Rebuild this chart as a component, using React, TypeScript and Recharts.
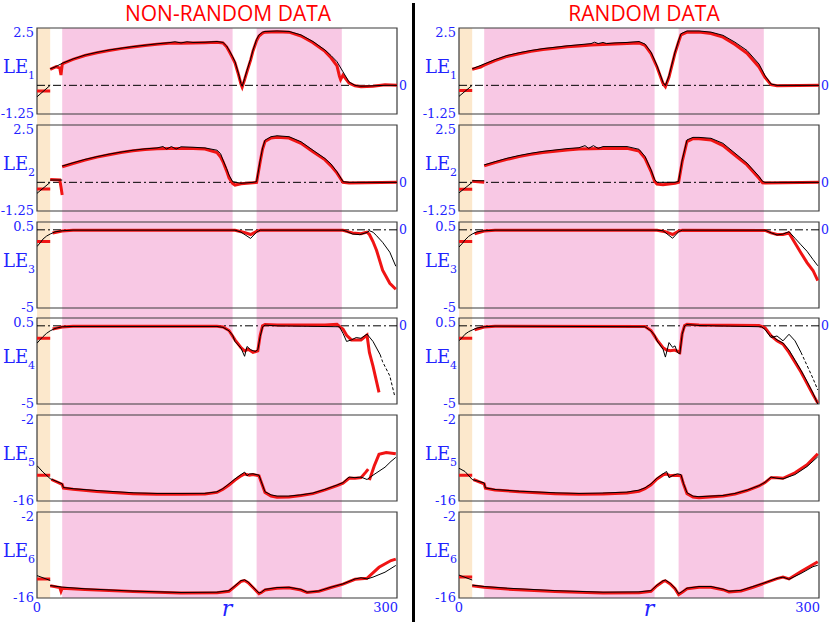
import React from "react";
import { LineChart, Line, XAxis, YAxis, ReferenceArea, ReferenceLine } from "recharts";

type Pt = [number, number | null];

// shaded r ranges (same in both columns)
const orangeBand: [number, number] = [0, 11];
const pinkBands: [number, number][] = [
  [21, 163],
  [183, 254],
];

const xTicks = [0, 300];
const domainLE12: [number, number] = [-1.25, 2.5];
const domainLE34: [number, number] = [-5, 0.5];
const domainLE56: [number, number] = [-16, -2];

// ---------- NON-RANDOM DATA (left) ----------
const leftLE1Black: Pt[] = [
  [0, -0.5], [11, 0], [11, null], [11, 0.72], [15, 0.8], [21, 0.96], [30, 1.15], [40, 1.32], [50, 1.44],
  [60, 1.54], [70, 1.62], [80, 1.69], [90, 1.75], [100, 1.81], [110, 1.86], [115, 1.9], [120, 1.85],
  [125, 1.9], [130, 1.87], [140, 1.88], [150, 1.91], [155, 1.87], [158, 1.72], [160, 1.54], [163, 1.25],
  [165, 1.03], [168, 0.5], [170, 0.07], [171, -0.04], [173, 0.3], [175, 0.66], [178, 1.15], [180, 1.54],
  [183, 2.0], [185, 2.2], [188, 2.32], [190, 2.35], [200, 2.37], [210, 2.35], [220, 2.2], [230, 1.91],
  [240, 1.54], [245, 1.3], [250, 1.03], [255, 0.59], [260, 0.15], [265, 0], [270, -0.04], [280, -0.02],
  [290, 0], [300, 0],
];
const leftLE1Red: Pt[] = [
  [0, -0.25], [11, -0.25], [11, null], [11, 0.7], [16, 0.82], [19, 0.75], [20, 0.45], [21, 0.9],
  [22, 0.96], [30, 1.13], [40, 1.3], [50, 1.42], [60, 1.52], [70, 1.6], [80, 1.67], [90, 1.74],
  [100, 1.79], [110, 1.83], [120, 1.84], [130, 1.85], [140, 1.86], [150, 1.88], [155, 1.85], [158, 1.68],
  [160, 1.5], [163, 1.2], [165, 0.98], [168, 0.45], [170, 0.05], [171, -0.08], [173, 0.25], [175, 0.6],
  [178, 1.1], [180, 1.5], [183, 1.95], [185, 2.15], [188, 2.28], [190, 2.32], [200, 2.34], [210, 2.32],
  [220, 2.15], [230, 1.86], [240, 1.48], [245, 1.2], [250, 0.85], [252, 0.4], [253, 0.25], [255, 0.45],
  [260, 0.1], [265, -0.02], [270, -0.06], [280, -0.04], [290, 0.02], [300, 0],
];
const leftLE2Black: Pt[] = [
  [0, -0.48], [11, 0], [11, null], [11, 0.1], [21, 0.1], [21, null], [21, 0.71], [30, 0.85], [40, 1.0],
  [50, 1.12], [60, 1.23], [70, 1.32], [80, 1.4], [90, 1.46], [100, 1.5], [105, 1.56], [108, 1.45],
  [112, 1.56], [116, 1.45], [120, 1.55], [130, 1.53], [140, 1.5], [150, 1.4], [153, 1.25], [155, 0.97],
  [158, 0.6], [160, 0.32], [163, 0.03], [170, -0.04], [180, 0], [183, 0.03], [186, 0.97], [188, 1.5],
  [190, 1.84], [195, 1.99], [200, 2.03], [210, 1.99], [220, 1.77], [230, 1.4], [240, 1.04], [245, 0.8],
  [250, 0.46], [255, 0.03], [260, 0], [300, 0],
];
const leftLE2Red: Pt[] = [
  [0, -0.29], [11, -0.29], [11, null], [11, 0.12], [19, 0.1], [20, -0.2], [21, -0.55], [21, null],
  [21, 0.68], [30, 0.82], [40, 0.97], [50, 1.1], [60, 1.2], [70, 1.3], [80, 1.38], [90, 1.43],
  [100, 1.46], [110, 1.48], [120, 1.48], [130, 1.47], [140, 1.45], [150, 1.3], [153, 1.1], [155, 0.9],
  [158, 0.5], [160, 0.2], [163, -0.05], [165, -0.12], [170, -0.06], [180, -0.02], [183, 0], [186, 0.9],
  [188, 1.45], [190, 1.78], [195, 1.93], [200, 1.97], [210, 1.93], [220, 1.7], [230, 1.33], [240, 0.98],
  [245, 0.72], [250, 0.4], [255, 0], [260, -0.03], [300, 0],
];
const leftLE3Black: Pt[] = [
  [0, -1.07], [3, -0.8], [5, -0.59], [8, -0.4], [11, -0.27], [15, -0.13], [21, -0.06], [30, -0.02],
  [165, -0.02], [170, -0.15], [178, -0.55], [183, -0.15], [186, -0.02], [255, -0.02], [258, -0.1],
  [263, -0.27], [269, -0.31], [275, -0.17], [277, -0.06], [280, -0.15], [283, -0.38], [288, -0.8],
  [294, -1.43], [299, -2.33],
];
const leftLE3Red: Pt[] = [
  [0, -0.74], [11, -0.74], [11, null], [13, -0.2], [18, -0.12], [21, -0.08], [30, -0.03], [165, -0.03],
  [172, -0.15], [178, -0.3], [183, -0.1], [186, -0.03], [255, -0.03], [258, -0.1], [263, -0.2],
  [270, -0.25], [275, -0.15], [277, -0.3], [280, -0.75], [283, -1.32], [288, -2.58], [294, -3.42],
  [299, -3.8],
];
const leftLE4Black: Pt[] = [
  [0, -1.11], [3, -0.85], [5, -0.69], [8, -0.48], [11, -0.32], [15, -0.17], [21, -0.06], [30, -0.04],
  [150, -0.04], [155, -0.1], [160, -0.32], [163, -0.6], [165, -1.0], [170, -1.43], [173, -1.95],
  [175, -1.32], [178, -1.53], [182, -1.64], [184, -1.53], [186, -0.69], [188, -0.06], [190, 0.04],
  [200, 0], [252, -0.06], [255, -0.48], [258, -1.0], [262, -0.9], [266, -0.75], [270, -0.8],
  [275, -0.53], [280, -1.0], [286, -1.85],
];
const leftLE4Dashed: Pt[] = [[286, -1.85], [288, -2.3], [294, -3.2], [298, -4.47]];
const leftLE4Red: Pt[] = [
  [0, -0.8], [11, -0.8], [11, null], [13, -0.2], [21, -0.08], [30, -0.03], [150, -0.03], [155, -0.08],
  [160, -0.3], [165, -0.9], [170, -1.4], [173, -1.6], [176, -1.5], [180, -1.7], [184, -1.6], [186, -0.6],
  [188, 0], [190, 0.08], [200, 0.05], [240, 0.05], [250, 0.1], [253, -0.1], [255, -0.2], [258, -0.6],
  [262, -0.9], [270, -0.9], [275, -0.59], [277, -1.7], [280, -2.58], [285, -4.26],
];
const leftLE5Black: Pt[] = [
  [0, -10.24], [5, -11.3], [11, -12.37], [21, -13.2], [22, -13.8], [30, -14.0], [50, -14.3], [80, -14.66],
  [100, -14.77], [120, -14.77], [140, -14.75], [150, -14.5], [155, -13.97], [160, -13.2], [165, -12.4],
  [170, -11.7], [173, -11.3], [175, -11.9], [177, -11.6], [180, -11.57], [185, -11.8], [187, -12.9],
  [190, -14.5], [195, -15.0], [200, -15.2], [210, -15.2], [220, -15.0], [230, -14.7], [240, -14.1],
  [250, -13.4], [255, -13.0], [260, -12.1], [265, -12.2], [270, -12.1], [275, -12.5], [280, -11.8],
  [290, -10.5], [295, -9.55], [299, -8.9],
];
const leftLE5Red: Pt[] = [
  [0, -11.8], [11, -11.8], [11, null], [12, -12.5], [21, -13.3], [22, -13.9], [30, -14.1], [50, -14.45],
  [80, -14.8], [100, -14.9], [120, -14.9], [140, -14.85], [150, -14.6], [155, -14.1], [160, -13.4],
  [165, -12.6], [170, -11.9], [173, -11.6], [177, -11.8], [180, -11.7], [185, -11.9], [187, -13.0],
  [190, -14.6], [195, -15.2], [200, -15.4], [210, -15.35], [220, -15.1], [230, -14.8], [240, -14.2],
  [250, -13.5], [255, -13.1], [260, -12.3], [265, -12.3], [270, -12.2], [274, -11.3], [276, -10.8],
  [276, null], [277, -12.6], [281, -10.3], [285, -8.4], [291, -8.1], [299, -8.3],
];
const leftLE6Black: Pt[] = [
  [0, -12.35], [11, -13.15], [11, null], [11, -13.97], [21, -14.23], [40, -14.5], [80, -14.87],
  [120, -15.1], [150, -15.05], [160, -14.8], [165, -14.0], [170, -13.16], [173, -13.05], [176, -13.4],
  [180, -14.23], [185, -15.2], [187, -15.05], [190, -14.6], [200, -14.3], [210, -14.25], [220, -14.6],
  [225, -15.05], [235, -14.85], [245, -14.23], [255, -13.7], [265, -12.9], [270, -12.7], [275, -12.9],
  [280, -12.6], [290, -11.8], [299, -10.7],
];
const leftLE6Red: Pt[] = [
  [0, -12.9], [11, -12.9], [11, null], [11, -14.0], [19, -14.3], [20, -14.9], [21, -14.4], [40, -14.6],
  [80, -14.95], [120, -15.2], [150, -15.15], [160, -14.9], [165, -14.1], [170, -13.3], [173, -13.15],
  [176, -13.5], [180, -14.3], [185, -15.3], [187, -15.1], [190, -14.7], [200, -14.4], [210, -14.35],
  [220, -14.7], [225, -15.1], [235, -14.9], [245, -14.3], [255, -13.75], [265, -12.95], [275, -12.8],
  [285, -11.0], [295, -9.9], [299, -9.67],
];

// ---------- RANDOM DATA (right) ----------
const rightLE1Black: Pt[] = [
  [0, -0.48], [11, 0], [11, null], [11, 0.72], [21, 0.93], [30, 1.12], [40, 1.3], [50, 1.42], [60, 1.52],
  [70, 1.6], [80, 1.66], [90, 1.72], [100, 1.77], [110, 1.82], [113, 1.88], [116, 1.82], [120, 1.87],
  [123, 1.82], [130, 1.85], [140, 1.87], [150, 1.91], [155, 1.8], [160, 1.45], [165, 0.86], [170, 0.13],
  [172, -0.01], [175, 0.42], [180, 1.45], [183, 1.95], [185, 2.25], [190, 2.37], [200, 2.37], [210, 2.32],
  [220, 2.18], [230, 1.88], [240, 1.52], [250, 0.93], [255, 0.42], [260, 0.06], [265, 0], [300, 0],
];
const rightLE1Red: Pt[] = [
  [0, -0.23], [11, -0.23], [11, null], [11, 0.7], [18, 0.8], [21, 0.88], [30, 1.08], [40, 1.26],
  [50, 1.38], [60, 1.48], [70, 1.56], [80, 1.62], [90, 1.68], [100, 1.72], [110, 1.76], [120, 1.78],
  [130, 1.8], [140, 1.82], [150, 1.85], [155, 1.74], [160, 1.38], [165, 0.8], [170, 0.08], [172, -0.06],
  [175, 0.36], [180, 1.4], [183, 1.9], [185, 2.2], [190, 2.32], [200, 2.32], [210, 2.26], [220, 2.1],
  [230, 1.78], [240, 1.4], [250, 0.8], [255, 0.35], [260, 0.03], [265, -0.02], [300, 0],
];
const rightLE2Black: Pt[] = [
  [0, -0.46], [11, 0], [11, null], [11, 0.07], [21, 0.07], [21, null], [21, 0.76], [30, 0.9], [40, 1.05],
  [50, 1.17], [60, 1.27], [70, 1.35], [80, 1.41], [90, 1.47], [100, 1.51], [105, 1.6], [108, 1.48],
  [112, 1.6], [116, 1.48], [120, 1.56], [130, 1.56], [140, 1.56], [145, 1.5], [150, 1.44], [155, 1.13],
  [160, 0.55], [163, 0.12], [165, 0], [180, 0], [183, 0.04], [186, 0.98], [190, 1.85], [195, 1.96],
  [200, 1.96], [210, 1.92], [220, 1.7], [230, 1.27], [240, 0.84], [250, 0.26], [253, 0.04], [255, 0],
  [300, 0],
];
const rightLE2Red: Pt[] = [
  [0, -0.3], [11, -0.3], [11, null], [11, 0.05], [21, 0], [21, null], [21, 0.72], [30, 0.86], [40, 1.0],
  [50, 1.12], [60, 1.22], [70, 1.3], [80, 1.36], [90, 1.41], [100, 1.45], [110, 1.46], [120, 1.48],
  [130, 1.48], [140, 1.48], [150, 1.36], [155, 1.05], [160, 0.48], [163, 0.05], [165, -0.08], [170, -0.1],
  [180, -0.04], [183, 0], [186, 0.9], [190, 1.78], [195, 1.9], [200, 1.9], [210, 1.85], [220, 1.6],
  [230, 1.18], [240, 0.76], [250, 0.18], [253, -0.02], [255, -0.03], [300, 0],
];
const rightLE3Black: Pt[] = [
  [0, -1.1], [3, -0.85], [5, -0.65], [8, -0.42], [11, -0.27], [15, -0.13], [21, -0.06], [30, -0.02],
  [165, -0.02], [170, -0.06], [178, -0.54], [183, -0.12], [186, -0.02], [255, -0.02], [260, -0.19],
  [265, -0.33], [270, -0.27], [275, -0.12], [280, -0.54], [285, -0.96], [290, -1.37], [295, -1.9],
  [299, -2.3],
];
const rightLE3Red: Pt[] = [
  [0, -0.75], [11, -0.75], [11, null], [13, -0.25], [21, -0.08], [30, -0.03], [165, -0.03], [172, -0.12],
  [178, -0.3], [183, -0.08], [186, -0.03], [255, -0.04], [260, -0.2], [265, -0.3], [270, -0.3],
  [275, -0.2], [280, -0.85], [285, -1.48], [290, -2.1], [295, -2.6], [299, -3.25],
];
const rightLE4Black: Pt[] = [
  [0, -0.96], [3, -0.72], [5, -0.54], [8, -0.38], [11, -0.27], [15, -0.14], [21, -0.06], [30, -0.02],
  [155, -0.06], [160, -0.33], [163, -0.6], [165, -0.96], [170, -1.49], [172, -2.0], [175, -1.07],
  [178, -1.38], [180, -1.28], [182, -1.7], [184, -1.8], [186, -0.54], [188, 0], [190, 0.08], [200, 0.02],
  [252, -0.06], [255, -0.23], [260, -0.75], [265, -0.65], [270, -0.96], [275, -0.54], [280, -0.96],
  [285, -1.7],
];
const rightLE4Dashed: Pt[] = [[285, -1.7], [290, -2.53], [295, -3.37], [299, -4.1]];
const rightLE4Black2: Pt[] = [
  [260, -0.6], [265, -0.9], [270, -1.1], [275, -1.55], [280, -2.2], [285, -2.85], [290, -3.55],
  [295, -4.3], [299, -5],
];
const rightLE4Red: Pt[] = [
  [0, -0.8], [11, -0.8], [11, null], [13, -0.25], [21, -0.08], [30, -0.03], [155, -0.05], [160, -0.3],
  [165, -0.9], [170, -1.4], [173, -1.55], [176, -1.6], [180, -1.55], [184, -1.7], [186, -0.5], [188, 0.02],
  [190, 0.1], [200, 0.05], [250, 0.02], [255, -0.13], [260, -0.63], [265, -0.96], [270, -1.17],
  [275, -1.7], [280, -2.32], [285, -2.95], [290, -3.68], [295, -4.4], [299, -4.94],
];
const rightLE5Black: Pt[] = [
  [0, -10.67], [5, -11.2], [11, -12.5], [21, -13.06], [22, -13.86], [30, -14.13], [50, -14.4],
  [80, -14.66], [100, -14.77], [120, -14.7], [140, -14.55], [150, -14.23], [155, -13.86], [160, -13.2],
  [165, -12.27], [170, -11.57], [173, -11.2], [175, -12.2], [178, -11.86], [182, -11.57], [185, -11.7],
  [187, -13.1], [190, -14.66], [195, -15.2], [200, -15.3], [220, -15.1], [230, -14.77], [240, -14.23],
  [250, -13.5], [255, -12.96], [260, -12.1], [265, -12.3], [270, -12.4], [280, -11.7], [290, -10.4],
  [299, -8.8],
];
const rightLE5Red: Pt[] = [
  [0, -11.8], [11, -11.8], [11, null], [12, -12.5], [21, -13.2], [22, -13.9], [30, -14.2], [50, -14.5],
  [80, -14.8], [100, -14.9], [120, -14.85], [140, -14.7], [150, -14.4], [155, -14.0], [160, -13.35],
  [165, -12.4], [170, -11.75], [173, -11.6], [176, -11.9], [180, -11.8], [185, -11.9], [187, -13.2],
  [190, -14.8], [195, -15.35], [200, -15.45], [220, -15.2], [230, -14.85], [240, -14.3], [250, -13.55],
  [255, -13.0], [260, -12.2], [265, -12.2], [270, -12.3], [280, -11.4], [290, -10.1], [299, -8.3],
];
const rightLE6Black: Pt[] = [
  [0, -12.27], [11, -13.07], [11, null], [11, -13.9], [21, -14.13], [40, -14.4], [80, -14.8],
  [120, -15.05], [150, -15.0], [160, -14.8], [165, -13.9], [170, -13.2], [172, -13.07], [176, -13.6],
  [180, -14.4], [183, -15.3], [186, -14.95], [190, -14.4], [200, -14.13], [210, -14.13], [220, -14.56],
  [225, -14.9], [235, -14.75], [245, -14.13], [255, -13.5], [265, -12.8], [270, -12.6], [275, -12.96],
  [285, -12.0], [295, -10.9], [299, -10.67],
];
const rightLE6Red: Pt[] = [
  [0, -12.6], [11, -12.6], [11, null], [11, -14.0], [21, -14.25], [40, -14.55], [80, -14.95],
  [120, -15.2], [150, -15.15], [160, -14.9], [165, -14.0], [170, -13.3], [172, -13.2], [176, -13.7],
  [180, -14.5], [183, -15.45], [186, -15.05], [190, -14.5], [200, -14.25], [210, -14.25], [220, -14.65],
  [225, -15.0], [235, -14.85], [245, -14.25], [255, -13.55], [265, -12.85], [270, -12.6], [275, -12.9],
  [285, -11.7], [299, -10.1],
];

const BLUE = "#2323ff";
const RED = "#f01414";
const SERIF = "'DejaVu Serif', serif";
const PANEL_H = 86;
const PANEL_STEP = 96.8;
const FIRST_TOP = 28;
const PLOT_W = 360;
const AXIS_W = 37;

type PanelCfg = {
  n: number;
  domain: [number, number];
  black: Pt[];
  red: Pt[];
  dashed?: Pt[];
  black2?: Pt[];
};

const leftPanels: PanelCfg[] = [
  { n: 1, domain: domainLE12, black: leftLE1Black, red: leftLE1Red },
  { n: 2, domain: domainLE12, black: leftLE2Black, red: leftLE2Red },
  { n: 3, domain: domainLE34, black: leftLE3Black, red: leftLE3Red },
  { n: 4, domain: domainLE34, black: leftLE4Black, red: leftLE4Red, dashed: leftLE4Dashed },
  { n: 5, domain: domainLE56, black: leftLE5Black, red: leftLE5Red },
  { n: 6, domain: domainLE56, black: leftLE6Black, red: leftLE6Red },
];
const rightPanels: PanelCfg[] = [
  { n: 1, domain: domainLE12, black: rightLE1Black, red: rightLE1Red },
  { n: 2, domain: domainLE12, black: rightLE2Black, red: rightLE2Red },
  { n: 3, domain: domainLE34, black: rightLE3Black, red: rightLE3Red },
  { n: 4, domain: domainLE34, black: rightLE4Black, red: rightLE4Red, dashed: rightLE4Dashed, black2: rightLE4Black2 },
  { n: 5, domain: domainLE56, black: rightLE5Black, red: rightLE5Red },
  { n: 6, domain: domainLE56, black: rightLE6Black, red: rightLE6Red },
];

const rows = (pts: Pt[]) => pts.map(([r, v]) => ({ r, v }));

const YTick = (props: any) => {
  const { x, y, payload, index } = props;
  return (
    <text x={x} y={y} dy={index === 0 ? -1 : 4} textAnchor="end" dominantBaseline="central"
      fill={BLUE} fontSize={13} fontFamily={SERIF}>
      {payload.value}
    </text>
  );
};

const XTick = (props: any) => {
  const { x, y, payload } = props;
  const end = payload.value === 300;
  return (
    <text x={end ? x + 1 : x} y={y} dy={10} textAnchor={end ? "end" : "middle"}
      fill={BLUE} fontSize={13} fontFamily={SERIF}>
      {payload.value}
    </text>
  );
};

const LeLabel = (props: any) => {
  const { viewBox, n } = props;
  const x = viewBox.x + 3;
  const y = viewBox.y + viewBox.height / 2 + 2;
  return (
    <text x={x} y={y} fill={BLUE} fontFamily={SERIF} fontSize={18}>
      <tspan>LE</tspan>
      <tspan dy={6} fontSize={11}>{n}</tspan>
    </text>
  );
};

const RLabel = (props: any) => {
  const { viewBox } = props;
  return (
    <text x={viewBox.x + viewBox.width / 2 + 10} y={viewBox.y + 18} textAnchor="middle"
      fill={BLUE} fontFamily={SERIF} fontStyle="italic" fontSize={22}>
      r
    </text>
  );
};

function Panel({ p, top, left, last }: { p: PanelCfg; top: number; left: number; last: boolean }) {
  const height = last ? 10 + PANEL_H + 24 + 2 : 10 + PANEL_H + 10;
  return (
    <div style={{ position: "absolute", left, top: top - 10 }}>
      <LineChart width={AXIS_W + PLOT_W + 20} height={height}
        margin={{ top: 10, right: 20, bottom: last ? 2 : 10, left: 0 }}>
        <XAxis type="number" dataKey="r" domain={[0, 300]} allowDataOverflow hide={!last}
          ticks={xTicks} tick={<XTick />} tickLine={false} axisLine={false} tickSize={0} tickMargin={4}
          height={24} label={last ? <RLabel /> : undefined} />
        <YAxis type="number" domain={p.domain} allowDataOverflow ticks={p.domain} tick={<YTick />}
          width={AXIS_W} tickLine={false} axisLine={false} tickSize={0} tickMargin={3}
          label={<LeLabel n={p.n} />} />
        {p.n <= 4 && (
          <ReferenceLine y={0} stroke="#000" strokeWidth={1} strokeDasharray="8 3 2 3"
            label={{ value: "0", position: "right", offset: 2, fill: BLUE, fontSize: 12.5, fontFamily: SERIF }} />
        )}
        <Line data={rows(p.red)} dataKey="v" stroke={RED} strokeWidth={3} dot={false}
          isAnimationActive={false} />
        {p.black2 && (
          <Line data={rows(p.black2)} dataKey="v" stroke="#000" strokeWidth={1} dot={false}
            isAnimationActive={false} />
        )}
        {p.dashed && (
          <Line data={rows(p.dashed)} dataKey="v" stroke="#000" strokeWidth={1} strokeDasharray="3 2"
            dot={false} isAnimationActive={false} />
        )}
        <Line data={rows(p.black)} dataKey="v" stroke="#000" strokeWidth={1} dot={false}
          isAnimationActive={false} />
        <ReferenceArea x1={0} x2={300} y1={p.domain[0]} y2={p.domain[1]} fill="none"
          fillOpacity={0} stroke="#3a3a3a" strokeWidth={1.2} />
      </LineChart>
    </div>
  );
}

function Column({ panels, left }: { panels: PanelCfg[]; left: number }) {
  const bgHeight = PANEL_STEP * 5 + PANEL_H;
  return (
    <>
      <div style={{ position: "absolute", left, top: FIRST_TOP }}>
        <LineChart width={AXIS_W + PLOT_W + 20} height={bgHeight}
          margin={{ top: 0, right: 20, bottom: 0, left: AXIS_W }}>
          <XAxis type="number" dataKey="r" domain={[0, 300]} allowDataOverflow hide />
          <YAxis type="number" domain={[0, 1]} allowDataOverflow hide />
          <ReferenceArea x1={orangeBand[0]} x2={orangeBand[1]} y1={0} y2={1} fill="#fce8cc"
            fillOpacity={1} stroke="none" />
          {pinkBands.map(([a, b], i) => (
            <ReferenceArea key={i} x1={a} x2={b} y1={0} y2={1} fill="#f8c8e4" fillOpacity={1}
              stroke="none" />
          ))}
        </LineChart>
      </div>
      {panels.map((p, i) => (
        <Panel key={p.n} p={p} top={FIRST_TOP + i * PANEL_STEP} left={left} last={i === panels.length - 1} />
      ))}
    </>
  );
}

export default function App() {
  return (
    <div style={{ position: "absolute", left: 0, top: 0, width: 830, height: 623, overflow: "hidden",
      background: "#fff" }}>
      <svg width={830} height={623} style={{ position: "absolute", left: 0, top: 0 }}>
        <text x={228} y={21} textAnchor="middle" fill="#ff0000" fontSize={21}
          fontFamily="'Open Sans', sans-serif">NON-RANDOM DATA</text>
        <text x={644} y={21} textAnchor="middle" fill="#ff0000" fontSize={21}
          fontFamily="'Open Sans', sans-serif">RANDOM DATA</text>
        <line x1={413.5} x2={413.5} y1={3} y2={622} stroke="#000" strokeWidth={3} />
      </svg>
      <Column panels={leftPanels} left={0} />
      <Column panels={rightPanels} left={422} />
    </div>
  );
}
